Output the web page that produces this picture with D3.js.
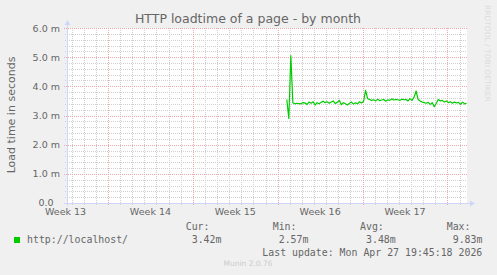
<!DOCTYPE html>
<html>
<head>
<meta charset="utf-8">
<script src="https://cdn.jsdelivr.net/npm/d3@7"></script>
<style>
  body { margin: 0; background: #f0f0f0; }
  svg { display: block; }
</style>
</head>
<body>
<div id="chart"></div>
<script>
// graph window (munin month = 33 days)
const windowStart = new Date(Date.UTC(2026, 2, 25, 14, 48));
const windowEnd = new Date(Date.UTC(2026, 3, 27, 14, 48));

// samples: 4 hour averages, loadtime in ms
const seriesStart = new Date(Date.UTC(2026, 3, 12, 18, 0));
const stepHours = 4;
const loadtime = [
  3.55, 2.90, 5.05, 3.44, 3.40, 3.42, 3.41, 3.40, 3.44, 3.43,
  3.38, 3.46, 3.42, 3.47, 3.36, 3.44, 3.40, 3.45, 3.49, 3.44,
  3.47, 3.42, 3.46, 3.50, 3.41, 3.45, 3.52, 3.37, 3.44, 3.40,
  3.36, 3.42, 3.46, 3.39, 3.44, 3.40, 3.47, 3.43, 3.48, 3.86,
  3.58, 3.55, 3.52, 3.54, 3.50, 3.56, 3.51, 3.53, 3.55, 3.49,
  3.54, 3.52, 3.57, 3.53, 3.55, 3.54, 3.52, 3.56, 3.54, 3.55,
  3.50, 3.58, 3.52, 3.63, 3.84, 3.55, 3.50, 3.46, 3.44, 3.42,
  3.45, 3.38, 3.44, 3.30, 3.42, 3.55, 3.50, 3.52, 3.46, 3.50,
  3.44, 3.47, 3.42, 3.46, 3.43, 3.45, 3.38, 3.46, 3.40, 3.42
];

const yTicks = [0, 1, 2, 3, 4, 5, 6];
const yTickLabels = ["0.0", "1.0 m", "2.0 m", "3.0 m", "4.0 m", "5.0 m", "6.0 m"];
const weekLabels = ["Week 13", "Week 14", "Week 15", "Week 16", "Week 17"];

const seriesName = "http://localhost/";
const legendHeads = ["Cur:", "Min:", "Avg:", "Max:"];
const legendValues = ["3.42m", "2.57m", "3.48m", "9.83m"];
const lastUpdate = "Last update: Mon Apr 27 19:45:18 2026";

const width = 497, height = 275;
const plotLeft = 67, plotRight = 467, plotTop = 28, plotBottom = 203;

let svg = d3.select('#chart')
    .append('svg')
    .attr('width', width)
    .attr('height', height);

svg.append('rect')
    .attr('width', width)
    .attr('height', height)
    .attr('fill', '#f0f0f0');

let x = d3.scaleUtc().domain([windowStart, windowEnd]).range([plotLeft, plotRight]);
let y = d3.scaleLinear().domain([0, 6]).range([plotBottom, plotTop]);

// canvas
svg.append('rect')
    .attr('x', plotLeft)
    .attr('y', plotTop)
    .attr('width', plotRight - plotLeft)
    .attr('height', plotBottom - plotTop)
    .attr('fill', '#ffffff');

let grid = svg.append('g').attr('shape-rendering', 'crispEdges');
const minorColor = '#d0d0d0';
const majorColor = '#eeaaaa';

// minor grid: days and 0.2 m
d3.utcDay.range(windowStart, windowEnd).forEach(d => {
    let xp = Math.round(x(d)) + 0.5;
    grid.append('line')
        .attr('x1', xp).attr('x2', xp)
        .attr('y1', plotTop).attr('y2', plotBottom + 2)
        .attr('stroke', minorColor)
        .attr('stroke-dasharray', '1,1');
});
d3.range(0, 30).forEach(i => {
    let v = i * 0.2;
    if (i % 5 == 0) return;
    let yp = Math.round(y(v)) + 0.5;
    grid.append('line')
        .attr('x1', plotLeft - 2).attr('x2', plotRight)
        .attr('y1', yp).attr('y2', yp)
        .attr('stroke', minorColor)
        .attr('stroke-dasharray', '1,1');
});

// major grid: weeks and whole m
d3.utcSunday.range(windowStart, windowEnd).forEach(d => {
    let xp = Math.round(x(d)) + 0.5;
    grid.append('line')
        .attr('x1', xp).attr('x2', xp)
        .attr('y1', plotTop).attr('y2', plotBottom + 3)
        .attr('stroke', majorColor)
        .attr('stroke-dasharray', '1,1');
});
yTicks.forEach(v => {
    let yp = Math.round(y(v)) + 0.5;
    grid.append('line')
        .attr('x1', plotLeft - 3).attr('x2', plotRight)
        .attr('y1', yp).attr('y2', yp)
        .attr('stroke', majorColor)
        .attr('stroke-dasharray', '1,1');
});

// axes with arrows
const axisColor = '#cfd6f8';
svg.append('line')
    .attr('x1', plotLeft + 0.5).attr('x2', plotLeft + 0.5)
    .attr('y1', plotBottom + 3).attr('y2', plotTop - 4)
    .attr('stroke', axisColor);
svg.append('path')
    .attr('d', `M${plotLeft - 2.5},${plotTop - 3} L${plotLeft + 3.5},${plotTop - 3} L${plotLeft + 0.5},${plotTop - 8} Z`)
    .attr('fill', axisColor);
svg.append('line')
    .attr('x1', plotLeft - 3).attr('x2', plotRight + 4)
    .attr('y1', plotBottom + 0.5).attr('y2', plotBottom + 0.5)
    .attr('stroke', axisColor);
svg.append('path')
    .attr('d', `M${plotRight + 3},${plotBottom - 2.5} L${plotRight + 3},${plotBottom + 3.5} L${plotRight + 8},${plotBottom + 0.5} Z`)
    .attr('fill', axisColor);

const textColor = '#666666';
const sans = 'DejaVu Sans, sans-serif';
const mono = 'DejaVu Sans Mono, monospace';

// y tick labels
yTicks.forEach((v, i) => {
    svg.append('text')
        .attr('x', i == 0 ? 53.5 : 60)
        .attr('y', i == 0 ? y(v) + 2.5 : y(v) + 3.5)
        .attr('text-anchor', 'end')
        .attr('font-family', sans)
        .attr('font-size', '9.5px')
        .attr('fill', textColor)
        .text(yTickLabels[i]);
});

// week labels, centred in the middle of each week
let firstSunday = d3.utcSunday.floor(windowStart);
weekLabels.forEach((label, i) => {
    let mid = d3.utcHour.offset(d3.utcWeek.offset(firstSunday, i), 84);
    svg.append('text')
        .attr('x', x(mid))
        .attr('y', 215)
        .attr('text-anchor', 'middle')
        .attr('font-family', sans)
        .attr('font-size', '9.5px')
        .attr('fill', textColor)
        .text(label);
});

// data line
let points = loadtime.map((v, i) => ({
    t: d3.utcHour.offset(seriesStart, i * stepHours),
    v: v
}));
let line = d3.line()
    .x(d => x(d.t))
    .y(d => y(d.v));
svg.append('path')
    .datum(points)
    .attr('d', line)
    .attr('fill', 'none')
    .attr('stroke', '#00cc00')
    .attr('stroke-width', 1.2)
    .attr('stroke-linejoin', 'round');

// title
svg.append('text')
    .attr('x', 248)
    .attr('y', 23)
    .attr('text-anchor', 'middle')
    .attr('font-family', sans)
    .attr('font-size', '12.5px')
    .attr('fill', textColor)
    .text('HTTP loadtime of a page - by month');

// vertical unit label
svg.append('text')
    .attr('transform', 'translate(15,115) rotate(-90)')
    .attr('text-anchor', 'middle')
    .attr('font-family', sans)
    .attr('font-size', '11px')
    .attr('fill', textColor)
    .text('Load time in seconds');

// watermark
svg.append('text')
    .attr('transform', 'translate(485,5) rotate(90)')
    .attr('font-family', sans)
    .attr('font-size', '7.5px')
    .attr('fill', '#dcdcdc')
    .text('RRDTOOL / TOBI OETIKER');

// legend
svg.append('rect')
    .attr('x', 14).attr('y', 237)
    .attr('width', 6).attr('height', 6)
    .attr('fill', '#00cc00');
svg.append('text')
    .attr('x', 27).attr('y', 243)
    .attr('font-family', mono)
    .attr('font-size', '9.9px')
    .attr('fill', textColor)
    .text(seriesName);

let headX = [185.7, 272.7, 360, 446.7];
legendHeads.forEach((h, i) => {
    svg.append('text')
        .attr('x', headX[i]).attr('y', 230)
        .attr('font-family', mono)
        .attr('font-size', '9.9px')
        .attr('fill', textColor)
        .text(h);
    svg.append('text')
        .attr('x', headX[i] + 6).attr('y', 243)
        .attr('font-family', mono)
        .attr('font-size', '9.9px')
        .attr('fill', textColor)
        .text(legendValues[i]);
});

svg.append('text')
    .attr('x', 482.3).attr('y', 255.5)
    .attr('text-anchor', 'end')
    .attr('font-family', mono)
    .attr('font-size', '9.9px')
    .attr('fill', textColor)
    .text(lastUpdate);

svg.append('text')
    .attr('x', 248).attr('y', 266)
    .attr('text-anchor', 'middle')
    .attr('font-family', sans)
    .attr('font-size', '7.5px')
    .attr('fill', '#cccccc')
    .text('Munin 2.0.76');
</script>
</body>
</html>
